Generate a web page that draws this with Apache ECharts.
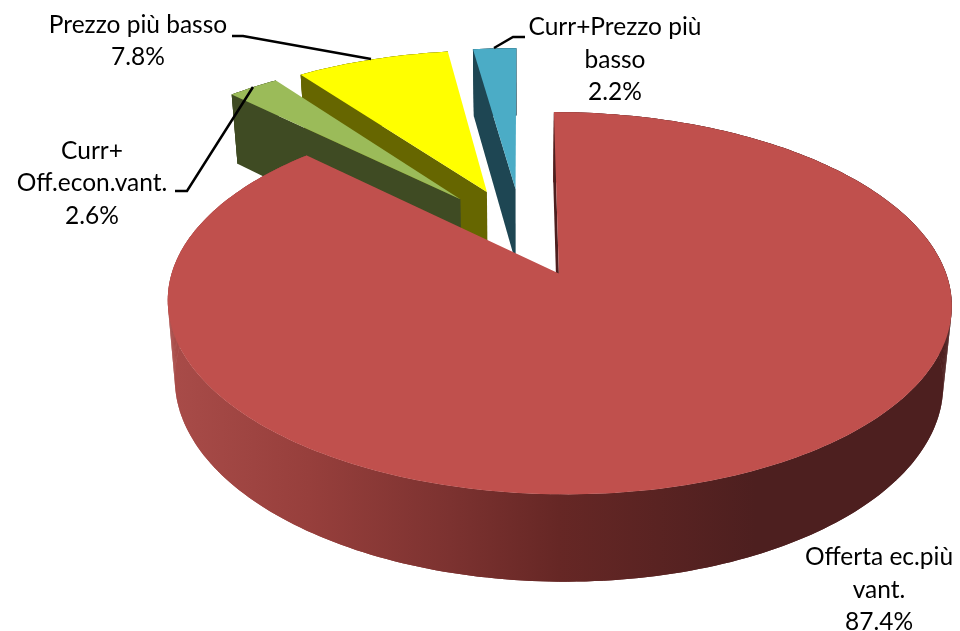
<!DOCTYPE html>
<html>
<head>
<meta charset="utf-8">
<script src="https://cdn.jsdelivr.net/npm/echarts@6/dist/echarts.min.js"></script>
<style>html,body{margin:0;padding:0;background:#fff}#chart{width:960px;height:631px}</style>
</head>
<body>
<div id="chart"></div>
<script>
var categories = ['Offerta ec.più\nvant.', 'Curr+\nOff.econ.vant.', 'Prezzo più basso', 'Curr+Prezzo più\nbasso'];
var values = [87.4, 2.6, 7.8, 2.2];
var topColors = ['#c0504d', '#9bbb59', '#ffff00', '#4bacc6'];
var wallColors = ['#4d1f1f', '#3f4b23', '#666600', '#1e4653'];
var explodes = [0.247, 0.26, 0.26, 0.26];
// paint order: yellow, then green over its wall, blue, big slice last
var drawOrder = [3, 1, 0, 2];

// projection of the tilted pie
var cx = 522, cy = 232.5, radX = 374, radY = 174, persp = 0.15;
var depth = 75.5, bottomScale = 0.98;

function project(x, y, bottom) {
    var w = 1 - persp * y;
    var k = bottom ? bottomScale : 1;
    return [cx + k * radX * x / w, cy + (k * radY * y + (bottom ? depth : 0)) / w];
}

var total = values.reduce(function (a, b) { return a + b; }, 0);

function sliceAngles(idx) {
    var start = 0;
    for (var i = 0; i < idx; i++) start += values[i] / total * Math.PI * 2;
    return [start, start + values[idx] / total * Math.PI * 2];
}

var mainWall = {
    type: 'linear', global: true, x: 167, y: 0, x2: 952, y2: 0,
    colorStops: [
        { offset: 0, color: '#a94c49' },
        { offset: 0.18, color: '#973f3c' },
        { offset: 0.36, color: '#7c3230' },
        { offset: 0.5, color: '#662725' },
        { offset: 0.75, color: '#4d1f1f' },
        { offset: 1, color: '#4d1f1f' }
    ]
};

function renderSlice(params, api) {
    var idx = params.dataIndex;
    var ang = sliceAngles(idx);
    var mid = (ang[0] + ang[1]) / 2;
    var ox = explodes[idx] * Math.sin(mid), oy = -explodes[idx] * Math.cos(mid);
    var arcTop = [], arcBottom = [];
    var steps = Math.ceil((ang[1] - ang[0]) / 0.02);
    for (var i = 0; i <= steps; i++) {
        var a = ang[0] + (ang[1] - ang[0]) * i / steps;
        var x = ox + Math.sin(a), y = oy - Math.cos(a);
        arcTop.push(project(x, y, false));
        arcBottom.push(project(x, y, true));
    }
    var apexTop = project(ox, oy, false), apexBottom = project(ox, oy, true);
    var z = drawOrder[idx] * 10;
    var wallFill = idx === 0 ? mainWall : wallColors[idx];
    var children = [];
    // outer wall: band first so quad seams don't show, quads give the straight silhouette
    children.push({
        type: 'polygon', z2: z,
        shape: { points: arcTop.concat(arcBottom.slice().reverse()) },
        style: { fill: wallFill }
    });
    for (var j = 0; j < steps; j++) {
        children.push({
            type: 'polygon', z2: z,
            shape: { points: [arcTop[j], arcTop[j + 1], arcBottom[j + 1], arcBottom[j]] },
            style: { fill: wallFill }
        });
    }
    children.push({
        type: 'polygon', z2: z + 1,
        shape: { points: [apexTop, arcTop[0], arcBottom[0], apexBottom] },
        style: { fill: wallColors[idx] }
    });
    children.push({
        type: 'polygon', z2: z + 2,
        shape: { points: [apexTop].concat(arcTop) },
        style: { fill: topColors[idx] }
    });
    return { type: 'group', children: children };
}

function pct(i) { return values[i].toFixed(1) + '%'; }

var labelStyle = { font: '24.5px Lato', fill: '#000', align: 'center', lineHeight: 32.5 };

function label(i, x, y) {
    return {
        type: 'text', x: x, y: y, z: 100,
        style: Object.assign({ text: categories[i] + '\n' + pct(i) }, labelStyle)
    };
}

function leader(points) {
    return {
        type: 'polyline', z: 101,
        shape: { points: points },
        style: { stroke: '#000', lineWidth: 2.5, fill: null }
    };
}

var myChart = echarts.init(document.getElementById('chart'));

var option = {
    animation: false,
    series: [
        {
            type: 'custom',
            coordinateSystem: 'none',
            renderItem: renderSlice,
            data: values,
            silent: true
        }
    ],
    graphic: [
        label(2, 138, 8.5),
        label(3, 615, 11),
        label(1, 92, 134.5),
        label(0, 879, 541),
        leader([[232, 36], [243, 36], [371, 59]]),
        leader([[494, 48], [513, 37], [525, 37]]),
        leader([[253, 87], [187, 191], [175, 191]])
    ]
};

myChart.setOption(option);
</script>
</body>
</html>
